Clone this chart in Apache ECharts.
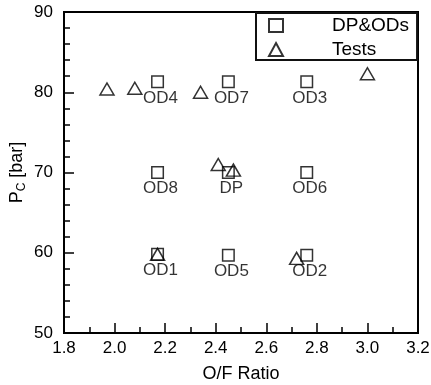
<!DOCTYPE html>
<html>
<head>
<meta charset="utf-8">
<script src="https://cdn.jsdelivr.net/npm/echarts@6/dist/echarts.min.js"></script>
<style>
  html, body { margin: 0; padding: 0; background: #fff; }
  #chart { width: 431px; height: 385px; }
</style>
</head>
<body>
<div id="chart"></div>
<script>
// Design point and off-design operating points
var pointNames = ['OD1', 'OD2', 'OD3', 'OD4', 'OD5', 'OD6', 'OD7', 'OD8', 'DP'];
var pointOF    = [2.17, 2.76, 2.76, 2.17, 2.45, 2.76, 2.45, 2.17, 2.45];
var pointPc    = [59.8, 59.7, 81.3, 81.3, 59.7, 70.0, 81.3, 70.0, 70.0];

// Hot-fire test conditions
var testOF = [1.97, 2.08, 2.34, 3.00, 2.41, 2.47, 2.17, 2.72];
var testPc = [80.4, 80.5, 80.0, 82.3, 71.0, 70.3, 59.8, 59.3];

// Axis ranges and tick labels
var xTicks = ['1.8', '2.0', '2.2', '2.4', '2.6', '2.8', '3.0', '3.2'];
var yTicks = ['50', '60', '70', '80', '90'];

var FONT = 'Liberation Sans, Arial, sans-serif';

var pointData = pointNames.map(function (n, i) {
  return { name: n, value: [pointOF[i], pointPc[i]] };
});
var testData = testOF.map(function (x, i) { return [x, testPc[i]]; });

var chart = echarts.init(document.getElementById('chart'));
chart.setOption({
  animation: false,
  backgroundColor: '#fff',
  textStyle: { fontFamily: FONT, color: '#000' },
  grid: {
    left: 64, right: 13, top: 12, bottom: 52,
    outerBoundsMode: 'none',
    containLabel: false,
    show: true, borderColor: '#000', borderWidth: 2, backgroundColor: 'transparent'
  },
  legend: {
    orient: 'vertical',
    left: 256, top: 13,
    padding: [3, 8, 1, 12],
    itemGap: 5,
    itemWidth: 14, itemHeight: 13,
    borderColor: '#111', borderWidth: 2,
    backgroundColor: '#fff',
    selectedMode: false,
    data: ['DP&ODs', 'Tests'],
    formatter: function (n) { return '{t|' + n + '}'; },
    textStyle: {
      fontFamily: FONT, color: '#000', fontSize: 19,
      rich: { t: { fontFamily: FONT, fontSize: 19, color: '#000', padding: [0, 0, 0, 44], lineHeight: 18 } }
    }
  },
  xAxis: {
    type: 'value',
    min: 1.8, max: 3.2, interval: 0.2,
    name: 'O/F Ratio',
    nameLocation: 'middle',
    nameGap: 32,
    nameTextStyle: { fontFamily: FONT, fontSize: 18, color: '#000' },
    axisLine: { show: true, onZero: false, lineStyle: { color: '#000', width: 2 } },
    axisTick: { show: true, inside: true, length: 10, lineStyle: { color: '#000', width: 1.5 } },
    minorTick: { show: true, splitNumber: 2, length: 6, lineStyle: { color: '#000', width: 1.5 } },
    splitLine: { show: false },
    axisLabel: {
      margin: 7, fontFamily: FONT, fontSize: 17, color: '#000',
      formatter: function (v) {
        var s = v.toFixed(1);
        return xTicks.indexOf(s) >= 0 ? s : '';
      }
    }
  },
  yAxis: {
    type: 'value',
    min: 50, max: 90, interval: 10,
    name: '{p|P}{s|C}{p| [bar]}',
    nameLocation: 'middle',
    nameRotate: 90,
    nameGap: 36,
    nameMoveOverlap: false,
    nameTextStyle: {
      fontFamily: FONT, fontSize: 18, color: '#000',
      rich: {
        p: { fontFamily: FONT, fontSize: 18, color: '#000' },
        s: { fontFamily: FONT, fontSize: 12, color: '#000', padding: [10, 0, 0, 0] }
      }
    },
    axisLine: { show: true, onZero: false, lineStyle: { color: '#000', width: 2 } },
    axisTick: { show: true, inside: true, length: 10, lineStyle: { color: '#000', width: 1.5 } },
    minorTick: { show: true, splitNumber: 5, length: 6, lineStyle: { color: '#000', width: 1.5 } },
    splitLine: { show: false },
    axisLabel: {
      margin: 11, fontFamily: FONT, fontSize: 17, color: '#000',
      formatter: function (v) {
        var s = String(Math.round(v));
        return yTicks.indexOf(s) >= 0 ? s : '';
      }
    }
  },
  series: [
    {
      name: 'DP&ODs',
      type: 'scatter',
      symbol: 'rect',
      symbolSize: 11.5,
      itemStyle: { color: 'rgba(255,255,255,0)', borderColor: '#000', borderWidth: 1.5 },
      label: {
        show: true,
        position: 'bottom',
        distance: 1,
        offset: [3, 0],
        formatter: '{b}',
        fontFamily: FONT, fontSize: 17, color: '#000'
      },
      data: pointData,
      z: 2
    },
    {
      name: 'Tests',
      type: 'scatter',
      symbol: 'triangle',
      symbolSize: [14, 12],
      itemStyle: { color: 'rgba(255,255,255,0)', borderColor: '#000', borderWidth: 1.5 },
      data: testData,
      z: 3
    }
  ]
});
</script>
</body>
</html>
